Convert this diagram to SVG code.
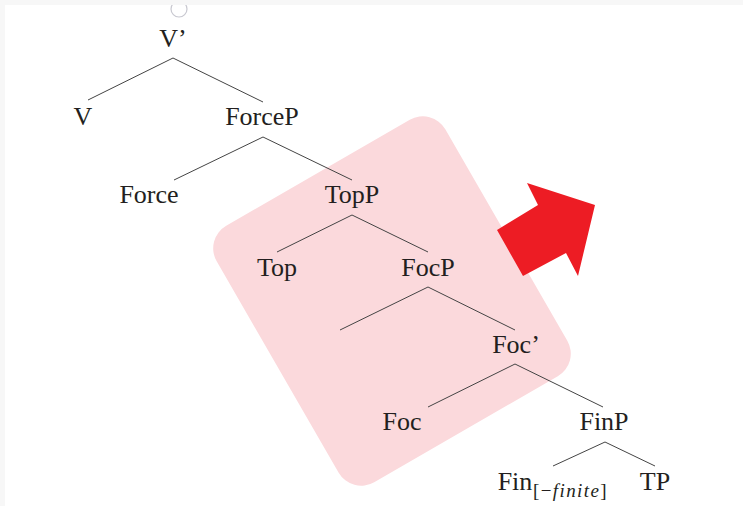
<svg xmlns="http://www.w3.org/2000/svg" width="743" height="506" viewBox="0 0 743 506">
<style>
.t{font-family:"Liberation Serif","DejaVu Serif",serif;font-size:26px;fill:#231f20;text-anchor:middle}
.s{font-family:"Liberation Serif","DejaVu Serif",serif;font-size:19px;fill:#231f20;letter-spacing:1.4px}
.e{stroke:#444;stroke-width:1;fill:none}
</style>
<rect x="0" y="0" width="743" height="506" fill="#ffffff"/>
<rect x="0" y="0" width="5" height="506" fill="#f7f7f7"/>
<circle cx="179" cy="9" r="8" fill="#fff" stroke="#c8c8d0" stroke-width="1.2"/>
<rect x="0" y="0" width="743" height="5" fill="#f7f7f7"/>
<g id="highlight">
<rect x="-132" y="-148" width="264" height="296" rx="26" fill="#fbd9dc" transform="translate(392,301) rotate(-30)"/>
</g>
<g id="arrow">
<polygon points="497,230 538,205 527,183 595,205 578,276 566,253 523,276" fill="#ed1c24"/>
</g>
<g id="connectors" class="e">
<polyline class="e" points="88,100 173,58 263,102"/>
<polyline class="e" points="174,180 263,137 352,180"/>
<polyline class="e" points="277,252 352,215 428,252"/>
<polyline class="e" points="340,330 428,287 515,330"/>
<polyline class="e" points="428,407 515,364 603,407"/>
<polyline class="e" points="553,466 605,442 655,466"/>
</g>
<g id="n-Vbar"><text class="t" x="173" y="47">V’</text></g>
<g id="n-V"><text class="t" x="83" y="125">V</text></g>
<g id="n-ForceP"><text class="t" x="262" y="125">ForceP</text></g>
<g id="n-Force"><text class="t" x="149" y="203">Force</text></g>
<g id="n-TopP"><text class="t" x="352" y="203">TopP</text></g>
<g id="n-Top"><text class="t" x="277" y="276">Top</text></g>
<g id="n-FocP"><text class="t" x="428" y="276">FocP</text></g>
<g id="n-Focbar"><text class="t" x="516" y="353">Foc’</text></g>
<g id="n-Foc"><text class="t" x="402" y="430">Foc</text></g>
<g id="n-FinP"><text class="t" x="604" y="430">FinP</text></g>
<g id="n-Fin"><text class="t" x="515" y="490">Fin</text><text class="s" x="533" y="497">[−<tspan font-style="italic">finite</tspan>]</text></g>
<g id="n-TP"><text class="t" x="655" y="490">TP</text></g>
</svg>
